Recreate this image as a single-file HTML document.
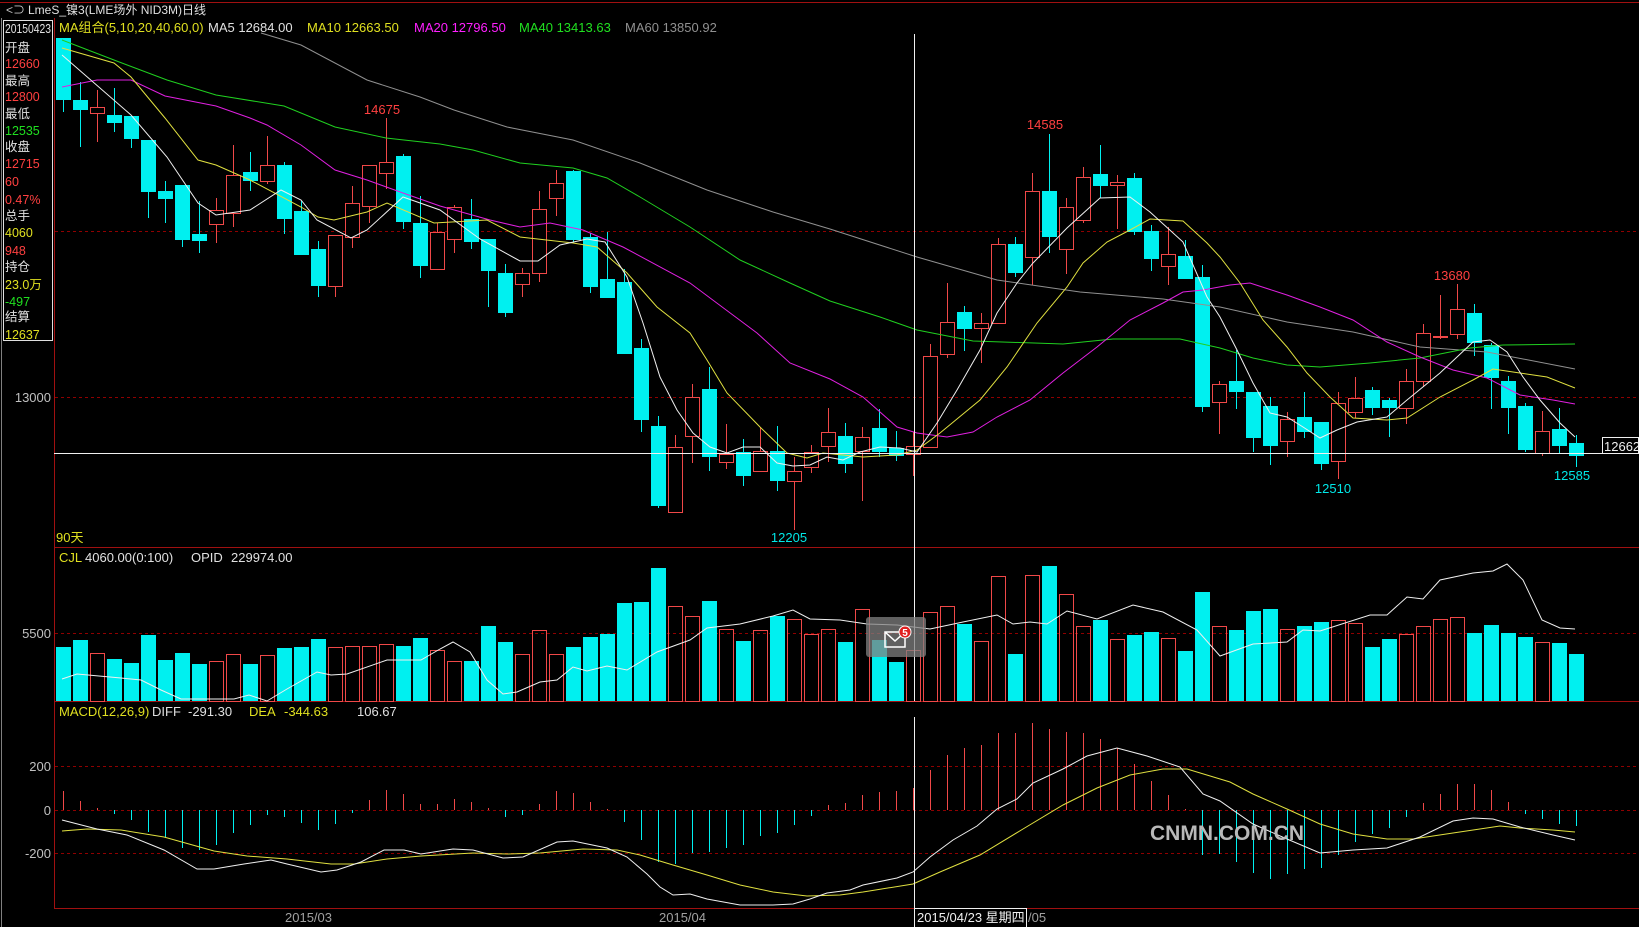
<!DOCTYPE html>
<html><head><meta charset="utf-8"><style>
html,body{margin:0;padding:0;background:#000;overflow:hidden}
svg{display:block}
text{font-family:"Liberation Sans","Noto Sans CJK SC",sans-serif}
</style></head><body>
<svg id="s" width="1639" height="927" font-size="13" xmlns="http://www.w3.org/2000/svg">
<rect width="1639" height="927" fill="#000"/>
<line x1="0" y1="2.5" x2="1639" y2="2.5" stroke="#a01010"/>
<line x1="1.5" y1="18" x2="1.5" y2="927" stroke="#808080"/>
<text x="6" y="14" fill="#c0c0c0" style="font-size:12px">&lt;⊃</text>
<text x="28" y="14" fill="#e0e0e0" style="font-size:12px">LmeS_镍3(LME场外 NID3M)日线</text>
<!-- left info box -->
<rect x="3.5" y="20.5" width="49" height="320" fill="none" stroke="#e0e0e0"/>
<g style="font-size:12.5px">
<text x="5" y="33" fill="#e0e0e0" textLength="46" lengthAdjust="spacingAndGlyphs">20150423</text>
<text x="5" y="52" fill="#e0e0e0">开盘</text>
<text x="5" y="68" fill="#ff4040">12660</text>
<text x="5" y="85" fill="#e0e0e0">最高</text>
<text x="5" y="101" fill="#ff4040">12800</text>
<text x="5" y="118" fill="#e0e0e0">最低</text>
<text x="5" y="135" fill="#20e020">12535</text>
<text x="5" y="151" fill="#e0e0e0">收盘</text>
<text x="5" y="168" fill="#ff4040">12715</text>
<text x="5" y="186" fill="#ff4040">60</text>
<text x="5" y="204" fill="#ff4040">0.47%</text>
<text x="5" y="220" fill="#e0e0e0">总手</text>
<text x="5" y="237" fill="#e0e020">4060</text>
<text x="5" y="255" fill="#ff4040">948</text>
<text x="5" y="271" fill="#e0e0e0">持仓</text>
<text x="5" y="289" fill="#e0e020">23.0万</text>
<text x="5" y="306" fill="#20e020">-497</text>
<text x="5" y="321" fill="#e0e0e0">结算</text>
<text x="5" y="339" fill="#e0e020">12637</text>
</g>
<!-- frames & grids -->
<g stroke="#a01010" fill="none">
<line x1="54.5" y1="18" x2="54.5" y2="908"/>
<line x1="54" y1="547.5" x2="1639" y2="547.5"/>
<line x1="54" y1="701.5" x2="1639" y2="701.5"/>
<line x1="54" y1="908.5" x2="1639" y2="908.5"/>
</g>
<g stroke="#900000" stroke-dasharray="3,3">
<line x1="55" y1="231.5" x2="1639" y2="231.5"/>
<line x1="55" y1="397.5" x2="1639" y2="397.5"/>
<line x1="55" y1="633.5" x2="1639" y2="633.5"/>
<line x1="55" y1="766.5" x2="1639" y2="766.5"/>
<line x1="55" y1="810.5" x2="1639" y2="810.5"/>
<line x1="55" y1="853.5" x2="1639" y2="853.5"/>
</g>
<g fill="#c0c0c0" text-anchor="end">
<text x="51" y="402">13000</text>
<text x="51" y="638">5500</text>
<text x="51" y="771">200</text>
<text x="51" y="815">0</text>
<text x="51" y="858">-200</text>
</g>
<!-- legends -->
<text x="59" y="32" fill="#e0e020">MA组合(5,10,20,40,60,0)</text>
<text x="208" y="32" fill="#e0e0e0">MA5 12684.00</text>
<text x="307" y="32" fill="#e0e020">MA10 12663.50</text>
<text x="414" y="32" fill="#ff20ff">MA20 12796.50</text>
<text x="519" y="32" fill="#20e020">MA40 13413.63</text>
<text x="625" y="32" fill="#909090">MA60 13850.92</text>
<text x="56" y="542" fill="#e0e020">90天</text>
<text x="59" y="562" fill="#e0e020">CJL</text>
<text x="85" y="562" fill="#e0e0e0">4060.00(0:100)</text>
<text x="191" y="562" fill="#e0e0e0">OPID</text>
<text x="231" y="562" fill="#e0e0e0">229974.00</text>
<text x="59" y="716" fill="#e0e020">MACD(12,26,9)</text>
<text x="152" y="716" fill="#e0e0e0">DIFF</text>
<text x="188" y="716" fill="#e0e0e0">-291.30</text>
<text x="249" y="716" fill="#e0e020">DEA</text>
<text x="284" y="716" fill="#e0e020">-344.63</text>
<text x="357" y="716" fill="#e0e0e0">106.67</text>
<g id="dyn"></g>
<!-- crosshair -->
<line x1="914.5" y1="34" x2="914.5" y2="701" stroke="#f0f0f0"/>
<line x1="914.5" y1="717" x2="914.5" y2="927" stroke="#f0f0f0"/>
<line x1="54" y1="453.5" x2="1602" y2="453.5" stroke="#f0f0f0"/>
<rect x="1602.5" y="437.5" width="36" height="16" fill="#000" stroke="#f0f0f0"/>
<text x="1604" y="451" fill="#f0f0f0">12662</text>
<!-- extreme labels -->
<g text-anchor="middle">
<text x="382" y="114" fill="#ff4040">14675</text>
<text x="1045" y="129" fill="#ff4040">14585</text>
<text x="1452" y="280" fill="#ff4040">13680</text>
<text x="789" y="542" fill="#00e8e8">12205</text>
<text x="1333" y="493" fill="#00e8e8">12510</text>
<text x="1572" y="480" fill="#00e8e8">12585</text>
</g>
<!-- mail overlay -->
<rect x="866" y="617" width="60" height="40" rx="3" fill="#808080" fill-opacity="0.75"/>
<rect x="885" y="632" width="20" height="15" fill="none" stroke="#fff" stroke-width="1.5"/>
<polyline points="885,632 895,641 905,632" fill="none" stroke="#fff" stroke-width="1.5"/>
<circle cx="905" cy="632" r="6" fill="#e02020" stroke="#fff"/>
<text x="905" y="636" fill="#fff" style="font-size:10px;font-weight:bold" text-anchor="middle">5</text>
<!-- watermark -->
<text x="1150" y="840" fill="#b8b8b8" style="font-size:21px;font-weight:bold">CNMN.COM.CN</text>
<!-- dates -->
<text x="285" y="922" fill="#a0a0a0">2015/03</text>
<text x="659" y="922" fill="#a0a0a0">2015/04</text>
<rect x="914.5" y="908.5" width="112" height="19" fill="#000" stroke="#f0f0f0"/>
<text x="917" y="922" fill="#f0f0f0">2015/04/23 星期四</text>
<text x="1028" y="922" fill="#a0a0a0">/05</text>
</svg>
<script>
var C=[
['c',38,100,38,112],['c',100,110,82,147],['r',107,113,90,142],['c',115,123,88,132],['c',116,139,116,148],
['c',140,192,140,218],['c',191,199,181,223],['c',185,240,185,247],['c',234,241,201,253],['r',210,224,198,243],
['r',175,213,145,227],['c',172,181,152,191],['r',165,181,136,184],['c',165,219,162,234],['c',211,255,201,255],
['c',249,286,241,297],['r',235,286,235,297],['r',203,237,186,248],['r',165,206,165,223],['r',162,173,118,189],
['c',156,222,154,229],['c',223,266,196,278],['r',232,269,223,269],['r',207,239,205,253],['c',219,242,199,249],
['c',239,271,239,307],['c',273,313,264,317],['r',273,284,268,297],['r',209,273,191,282],['r',183,198,170,216],
['c',171,240,170,242],['c',237,287,233,293],['c',279,298,232,298],['c',282,354,269,354],['c',348,420,339,432],
['c',426,506,416,508],['r',447,512,435,512],['r',397,436,384,463],['c',389,457,367,471],['r',454,462,424,469],
['c',452,476,439,486],['r',451,471,427,471],['c',451,481,426,491],['r',471,481,457,530],['r',452,467,445,473],
['r',432,446,408,462],['c',436,464,423,473],['r',437,451,427,501],['c',428,452,409,457],['c',448,456,431,461],
['r',446,454,432,476],['r',356,447,344,447],['r',322,354,283,358],['c',312,329,306,351],['r',323,328,313,363],
['r',244,323,238,323],['c',244,273,237,277],['r',191,257,173,285],['c',191,237,134,253],['r',207,249,198,274],
['r',177,220,167,223],['c',174,186,145,198],['r',182,185,175,229],['c',178,232,173,235],['c',231,259,225,271],
['r',254,266,227,285],['c',256,279,240,279],['c',277,407,265,412],['r',384,402,381,434],['c',381,392,350,409],
['c',392,438,392,452],['c',406,446,397,465],['r',419,441,412,457],['c',417,432,392,438],['c',422,464,422,470],
['r',403,461,392,479],['r',398,412,377,418],['c',390,408,387,415],['c',400,408,398,437],['r',381,408,369,424],
['r',333,381,324,387],['r',336,337,295,339],['r',309,334,284,339],['c',313,343,304,356],['c',345,378,343,409],
['c',381,408,376,434],['c',406,450,403,452],['r',431,453,411,456],['c',429,446,408,453],['c',443,456,435,467]];
var V=[647,640,653,659,663,635,660,653,664,661,654,664,655,648,647,639,647,646,646,644,646,638,650,661,661,626,642,654,630,654,647,637,634,603,602,568,606,616,601,629,641,630,616,619,634,629,642,609,640,662,650,612,606,624,641,576,654,575,566,594,626,620,639,635,632,638,651,592,626,630,611,609,629,626,622,620,623,647,639,634,626,619,617,633,625,633,637,642,643,654];
var M=[791,801,808,814,820,832,838,848,850,845,833,825,815,817,823,830,824,813,800,790,794,804,804,799,802,808,817,815,804,791,793,802,809,822,840,862,864,853,852,848,845,836,833,825,816,805,803,795,792,791,788,770,755,748,745,733,733,723,729,732,733,739,748,764,781,795,809,855,854,862,873,879,874,869,868,855,842,834,828,817,803,794,784,784,790,802,814,819,824,826];
var L={
w:"62,55 131,115 167,157 198,203 216,215 250,210 281,190 301,200 317,220 351,238 367,230 403,197 440,210 480,239 520,261 538,261 560,245 587,239 605,242 627,277 643,323 660,377 677,410 693,433 710,447 727,453 743,447 760,447 777,463 793,466 810,465 827,457 843,460 860,452 880,447 900,448 917,452 937,423 957,390 980,350 997,313 1017,283 1033,263 1067,228 1100,198 1130,197 1150,212 1183,242 1207,297 1220,317 1237,350 1253,383 1270,413 1287,417 1303,427 1320,438 1337,430 1357,422 1387,417 1407,400 1440,373 1473,342 1490,340 1507,352 1523,377 1540,400 1560,423 1575,437",
y:"62,48 114,63 131,77 165,118 198,160 216,165 250,180 301,207 318,217 334,220 367,212 387,203 434,223 487,220 520,237 573,243 597,247 627,273 657,307 690,333 707,360 727,393 760,427 787,453 807,458 823,453 863,457 897,455 917,450 940,433 980,400 1007,367 1037,323 1067,287 1083,263 1107,242 1130,230 1150,219 1183,221 1207,243 1220,257 1240,283 1263,320 1287,347 1307,373 1330,397 1353,418 1387,420 1407,418 1440,397 1473,380 1493,369 1513,372 1547,377 1575,388",
m:"62,87 97,80 131,80 165,96 216,106 250,118 267,125 301,145 335,170 367,180 403,193 440,206 490,220 520,227 550,223 583,230 623,247 690,283 757,333 790,363 830,379 863,397 897,427 917,433 947,437 973,432 997,417 1030,400 1063,373 1097,347 1130,320 1163,303 1183,292 1203,290 1230,285 1250,283 1287,295 1320,307 1353,320 1387,342 1420,357 1453,370 1487,378 1520,395 1553,400 1575,404",
g:"62,40 114,60 167,80 216,95 284,106 335,127 386,138 440,144 473,150 520,163 573,168 607,178 640,197 690,227 740,260 790,283 830,301 880,317 917,330 973,341 1063,344 1113,339 1180,339 1220,348 1253,358 1287,365 1320,367 1370,363 1420,358 1470,348 1503,345 1575,344",
a:"261,33 301,45 367,80 420,97 454,110 507,127 573,140 640,163 707,190 773,212 830,229 917,257 997,280 1080,292 1163,299 1220,307 1287,322 1353,332 1420,347 1487,352 1575,369",
vw:"62,679 77,674 121,678 141,680 161,690 181,699 234,699 249,695 267,701 287,689 317,672 331,675 347,674 387,660 421,660 440,649 453,642 470,652 487,680 503,694 517,692 540,682 557,680 573,667 587,671 607,666 627,670 657,652 690,640 707,628 740,624 773,616 793,610 810,619 840,620 867,624 897,625 930,629 963,622 997,615 1013,624 1030,622 1047,624 1067,611 1097,619 1133,605 1163,612 1197,630 1220,656 1253,644 1287,642 1303,630 1320,631 1370,615 1387,615 1407,597 1423,599 1440,580 1473,573 1493,571 1507,564 1523,580 1542,620 1560,628 1575,629",
dw:"62,820 97,829 127,835 164,850 197,869 214,869 244,864 271,860 287,864 321,872 337,870 361,862 384,850 404,850 421,854 440,851 453,849 473,850 503,858 523,857 557,842 573,841 607,848 627,857 647,874 660,887 673,895 690,894 707,899 740,905 773,905 793,904 810,899 827,893 850,890 863,885 897,878 913,872 930,857 953,840 977,826 997,809 1017,799 1033,783 1063,769 1087,756 1117,748 1147,756 1180,767 1203,794 1220,801 1253,824 1287,839 1320,853 1353,850 1387,848 1420,837 1453,821 1473,818 1493,819 1520,827 1553,835 1575,840",
dy:"62,831 87,829 121,830 164,837 214,851 247,856 287,859 331,864 354,864 387,859 421,856 473,853 507,854 540,853 583,849 617,850 640,855 673,865 707,875 740,885 773,892 807,896 840,895 863,892 913,884 940,872 980,855 1023,829 1063,805 1097,788 1130,775 1163,769 1187,769 1230,782 1253,794 1287,809 1320,824 1353,834 1387,839 1413,839 1453,833 1500,826 1520,828 1553,830 1575,832"};
var RED="#f04848",CY="#00f0f0",h="";
for(var i=0;i<90;i++){var c=C[i],x=63+17*i,xl=x-7;
 if(c[0]=='c'){h+='<line x1="'+(x+.5)+'" y1="'+c[3]+'" x2="'+(x+.5)+'" y2="'+c[4]+'" stroke="'+CY+'"/>';
  h+='<rect x="'+xl+'" y="'+c[1]+'" width="15" height="'+Math.max(2,c[2]-c[1])+'" fill="'+CY+'"/>';}
 else{h+='<line x1="'+(x+.5)+'" y1="'+c[3]+'" x2="'+(x+.5)+'" y2="'+c[1]+'" stroke="'+RED+'"/>';
  h+='<line x1="'+(x+.5)+'" y1="'+c[2]+'" x2="'+(x+.5)+'" y2="'+c[4]+'" stroke="'+RED+'"/>';
  h+='<rect x="'+(xl+.5)+'" y="'+(c[1]+.5)+'" width="14" height="'+Math.max(1,c[2]-c[1])+'" fill="#000" stroke="'+RED+'"/>';}
 if(c[0]=='c')h+='<rect x="'+xl+'" y="'+V[i]+'" width="15" height="'+(701-V[i])+'" fill="'+CY+'"/>';
 else h+='<rect x="'+(xl+.5)+'" y="'+(V[i]+.5)+'" width="14" height="'+(701-V[i])+'" fill="none" stroke="'+RED+'"/>';
 var m=M[i];h+='<line x1="'+(x+.5)+'" y1="810" x2="'+(x+.5)+'" y2="'+m+'" stroke="'+(m<810?RED:CY)+'"/>';
}
function pl(p,col){return '<polyline points="'+p+'" fill="none" stroke="'+col+'" stroke-width="1"/>';}
h+=pl(L.a,"#909090")+pl(L.g,"#20d020")+pl(L.m,"#e020e0")+pl(L.y,"#e0e040")+pl(L.w,"#f0f0f0");
h+=pl(L.vw,"#f0f0f0")+pl(L.dy,"#e0e040")+pl(L.dw,"#f0f0f0");
document.getElementById("dyn").innerHTML=h;
</script>
</body></html>
